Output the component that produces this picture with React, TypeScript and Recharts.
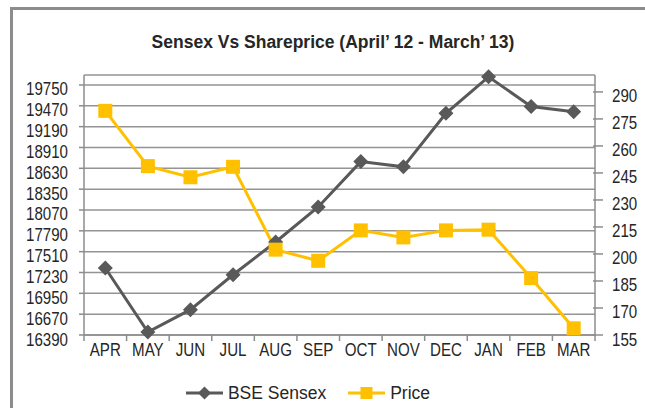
import { LineChart, Line, XAxis, YAxis, CartesianGrid, Legend } from "recharts";

const months = ["APR", "MAY", "JUN", "JUL", "AUG", "SEP", "OCT", "NOV", "DEC", "JAN", "FEB", "MAR"];
const sensex = [17290, 16430, 16730, 17200, 17640, 18110, 18720, 18650, 19370, 19860, 19460, 19390];
const price = [279.5, 248.8, 242.6, 248.4, 202.4, 196.2, 213.1, 209.2, 213.1, 213.5, 186.6, 158.7];
const sensexTicks = [16390, 16670, 16950, 17230, 17510, 17790, 18070, 18350, 18630, 18910, 19190, 19470, 19750];
const priceTicks = [155, 170, 185, 200, 215, 230, 245, 260, 275, 290];

const data = months.map((m, i) => ({ month: m, sensex: sensex[i], price: price[i] }));

const FONT = "'Liberation Sans', Arial, sans-serif";
const TEXT = "#262626";
const AXIS = "#8c8c8c";
const GREY = "#595959";
const GOLD = "#ffc000";
const HALF_BAND = 511 / 12 / 2;
const SQUEEZE = 0.84;

const diamond = (cx: number, cy: number, r: number) => (
  <polygon points={`${cx},${cy - r} ${cx + r},${cy} ${cx},${cy + r} ${cx - r},${cy}`} fill={GREY} />
);

const square = (cx: number, cy: number, s: number) => (
  <rect x={cx - s / 2} y={cy - s / 2} width={s} height={s} fill={GOLD} />
);

const SensexDot = (p: any) => (p.cx == null ? null : <g key={p.index}>{diamond(p.cx, p.cy, 7.5)}</g>);
const PriceDot = (p: any) => (p.cx == null ? null : <g key={p.index}>{square(p.cx, p.cy, 14)}</g>);

// condensed label, like the narrow face of the original
const Label = ({ x, y, anchor, children }: any) => (
  <text
    transform={`translate(${x},${y}) scale(${SQUEEZE},1)`}
    textAnchor={anchor}
    fill={TEXT}
    fontSize={18}
    fontFamily={FONT}
  >
    {children}
  </text>
);

const MonthTick = ({ x, y, payload, index }: any) => (
  <g>
    <line x1={x - HALF_BAND} x2={x - HALF_BAND} y1={y} y2={y + 6} stroke={AXIS} strokeWidth={1.5} />
    {index === months.length - 1 && (
      <line x1={x + HALF_BAND} x2={x + HALF_BAND} y1={y} y2={y + 6} stroke={AXIS} strokeWidth={1.5} />
    )}
    <Label x={x} y={y + 20.5} anchor="middle">
      {payload.value}
    </Label>
  </g>
);

const LeftTick = ({ x, y, payload }: any) => (
  <Label x={x} y={y + 10.5} anchor="end">
    {payload.value}
  </Label>
);

const RightTick = ({ x, y, payload }: any) => (
  <g>
    <line x1={x - 19} x2={x - 17} y1={y} y2={y} stroke={AXIS} strokeWidth={1.5} />
    <Label x={x} y={y + 10.5} anchor="start">
      {payload.value}
    </Label>
  </g>
);

const LegendBox = () => (
  <div
    style={{
      display: "flex",
      justifyContent: "center",
      alignItems: "center",
      height: 24,
      fontFamily: FONT,
      fontSize: 17.5,
      color: TEXT,
    }}
  >
    <svg width={37} height={16}>
      <line x1={0} x2={37} y1={8} y2={8} stroke={GREY} strokeWidth={3} />
      {diamond(18.5, 8, 6.5)}
    </svg>
    <span style={{ marginLeft: 5, marginRight: 22 }}>BSE Sensex</span>
    <svg width={37} height={16}>
      <line x1={0} x2={37} y1={8} y2={8} stroke={GOLD} strokeWidth={3} />
      {square(18.5, 8, 12)}
    </svg>
    <span style={{ marginLeft: 5 }}>Price</span>
  </div>
);

export default function App() {
  return (
    <div style={{ position: "absolute", left: 0, top: 0, width: 645, height: 408, background: "#fff", overflow: "hidden" }}>
      <div
        style={{
          position: "absolute",
          left: 10,
          top: 7,
          width: 700,
          height: 500,
          border: "3px solid #8c8c8c",
        }}
      />
      <div
        style={{
          position: "absolute",
          top: 34,
          left: 0,
          width: 666,
          textAlign: "center",
          fontFamily: FONT,
          fontWeight: "bold",
          fontSize: 17.5,
          lineHeight: "17.5px",
          color: TEXT,
        }}
      >
        Sensex Vs Shareprice (April’ 12 - March’ 13)
      </div>
      <div style={{ position: "absolute", left: 0, top: 0 }}>
        <LineChart width={645} height={408} data={data} margin={{ top: 75, right: 0, bottom: 19, left: 0 }}>
          <CartesianGrid yAxisId="left" vertical={false} stroke="#949494" strokeWidth={1.5} />
          <XAxis
            dataKey="month"
            scale="band"
            interval={0}
            height={30}
            tickLine={false}
            tickSize={0}
            tickMargin={0}
            axisLine={{ stroke: AXIS, strokeWidth: 1.5 }}
            tick={<MonthTick />}
          />
          <YAxis
            yAxisId="left"
            width={84}
            domain={[16390, 19884]}
            ticks={sensexTicks}
            interval={0}
            tickSize={5}
            tickMargin={11}
            axisLine={{ stroke: AXIS, strokeWidth: 1.5 }}
            tickLine={{ stroke: AXIS, strokeWidth: 1.5 }}
            tick={<LeftTick />}
          />
          <YAxis
            yAxisId="right"
            orientation="right"
            width={50}
            domain={[155, 299.4]}
            ticks={priceTicks}
            interval={0}
            tickSize={8}
            tickMargin={9}
            axisLine={{ stroke: AXIS, strokeWidth: 1.5 }}
            tickLine={{ stroke: AXIS, strokeWidth: 1.5 }}
            tick={<RightTick />}
          />
          <Line
            yAxisId="left"
            dataKey="sensex"
            name="BSE Sensex"
            stroke={GREY}
            strokeWidth={3}
            dot={SensexDot}
            activeDot={false}
            isAnimationActive={false}
          />
          <Line
            yAxisId="right"
            dataKey="price"
            name="Price"
            stroke={GOLD}
            strokeWidth={3}
            dot={PriceDot}
            activeDot={false}
            isAnimationActive={false}
          />
          <Legend
            verticalAlign="bottom"
            content={<LegendBox />}
            wrapperStyle={{ top: 381, bottom: "auto", left: 0, width: 616, height: 24 }}
          />
        </LineChart>
      </div>
    </div>
  );
}
